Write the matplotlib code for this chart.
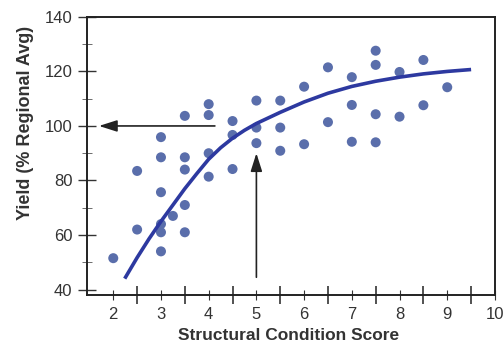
import matplotlib
matplotlib.use("Agg")
import matplotlib.pyplot as plt
from matplotlib.ticker import MultipleLocator, FixedLocator

plt.rcParams['font.family'] = ['Liberation Sans', 'DejaVu Sans']

# scatter points
score = [2, 2.5, 2.5, 3, 3, 3, 3, 3, 3, 3.25, 3.5, 3.5, 3.5, 3.5, 3.5,
         4, 4, 4, 4, 4.5, 4.5, 4.5, 5, 5, 5, 5.5, 5.5, 5.5,
         6, 6, 6.5, 6.5, 7, 7, 7, 7.5, 7.5, 7.5, 7.5, 8, 8, 8.5, 8.5, 9]
yield_pct = [51.5, 62, 83.5, 54, 61, 64, 75.7, 88.5, 95.9, 67, 61, 71, 84, 88.5, 103.7,
             81.4, 90, 104, 108, 84.2, 96.7, 101.8, 93.7, 99.4, 109.3, 90.9, 99.4, 109.3,
             93.3, 114.4, 101.4, 121.5, 94.2, 107.7, 117.9, 94, 104.3, 122.4, 127.6,
             103.4, 119.8, 107.6, 124.2, 114.2]

# fitted trend line
curve_x = [2.24, 2.5, 2.75, 3.0, 3.25, 3.5, 3.75, 4.0, 4.25, 4.5, 4.75, 5.0,
           5.5, 6.0, 6.5, 7.0, 7.5, 8.0, 8.5, 9.0, 9.5]
curve_y = [44, 51.7, 58.6, 65.0, 71.0, 77.0, 82.5, 87.8, 92.0, 95.5, 98.4, 100.9,
           105.0, 108.8, 112.0, 114.5, 116.4, 117.9, 119.1, 120.0, 120.7]

xticks = [2, 3, 4, 5, 6, 7, 8, 9, 10]
yticks = [40, 60, 80, 100, 120, 140]

fig = plt.figure(figsize=(5.03, 3.45), dpi=100)
ax = fig.add_axes([0.173, 0.145, 0.811, 0.806])

ax.scatter(score, yield_pct, s=52, color='#5a6eab', edgecolors='none', zorder=3)
ax.plot(curve_x, curve_y, color='#2d39a0', lw=2.6, solid_joinstyle='round',
        solid_capstyle='butt', zorder=4)

# horizontal arrow pointing to 100 on the y axis
ax.annotate('', xy=(1.7, 100), xytext=(4.13, 100),
            arrowprops=dict(arrowstyle='-|>,head_length=1.1,head_width=0.35',
                            color='#222222', lw=1.2, shrinkA=0, shrinkB=0))
# vertical arrow pointing up at score 5
ax.annotate('', xy=(5, 90), xytext=(5, 44.5),
            arrowprops=dict(arrowstyle='-|>,head_length=1.1,head_width=0.35',
                            color='#222222', lw=1.2, shrinkA=0, shrinkB=0))

ax.set_xlim(1.45, 10)
ax.set_ylim(38, 140)

ax.xaxis.set_major_locator(FixedLocator(xticks))
ax.xaxis.set_minor_locator(FixedLocator([2.5, 3.5, 4.5, 5.5, 6.5, 7.5, 8.5, 9.5]))
ax.yaxis.set_major_locator(FixedLocator(yticks))
ax.yaxis.set_minor_locator(MultipleLocator(10))

ax.tick_params(axis='x', which='major', direction='inout', length=7, width=0.8,
               labelsize=12, colors='#333333', pad=5)
ax.tick_params(axis='x', which='minor', direction='inout', length=13, width=1.2,
               colors='#333333')
ax.tick_params(axis='y', which='major', direction='inout', length=13, width=1.0,
               labelsize=12, colors='#333333', pad=4)
ax.tick_params(axis='y', which='minor', direction='inout', length=7, width=0.6,
               colors='#555555')

for side in ['left', 'bottom', 'top', 'right']:
    ax.spines[side].set_color('#222222')
    ax.spines[side].set_linewidth(1.4)

ax.set_xlabel('Structural Condition Score', fontsize=12.5, fontweight='bold',
              color='#333333')
ax.set_ylabel('Yield (% Regional Avg)', fontsize=13, fontweight='bold',
              color='#333333')
ax.xaxis.set_label_coords(0.495, -0.118)
ax.yaxis.set_label_coords(-0.13, 0.62)

fig.savefig('out.png', dpi=100, facecolor='white')
